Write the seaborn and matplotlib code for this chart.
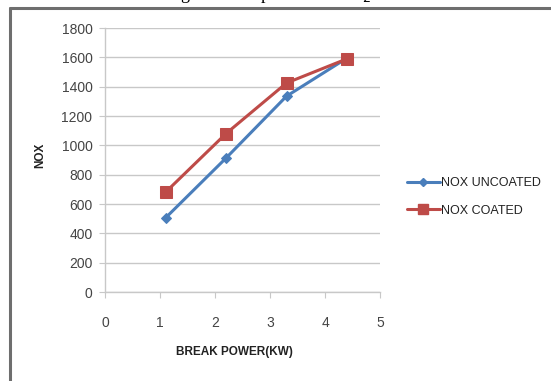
import matplotlib
matplotlib.use("Agg")
import matplotlib.pyplot as plt
from matplotlib.lines import Line2D
import seaborn as sns
import pandas as pd

power = [1.1, 2.2, 3.3, 4.4]
nox_uncoated = [505, 913, 1335, 1595]
nox_coated = [680, 1080, 1425, 1590]
series_names = ["NOX UNCOATED", "NOX COATED"]
y_ticks = [0, 200, 400, 600, 800, 1000, 1200, 1400, 1600, 1800]
x_ticks = [0, 1, 2, 3, 4, 5]

df = pd.DataFrame({
    "power": power * 2,
    "nox": nox_uncoated + nox_coated,
    "series": [series_names[0]] * 4 + [series_names[1]] * 4,
})

sns.set_style("white")
plt.rcParams["font.family"] = ["Liberation Sans", "DejaVu Sans"]

fig = plt.figure(figsize=(5.51, 3.81), dpi=100)
ax = fig.add_axes([105 / 551, 1 - 292 / 381, 275 / 551, 264 / 381])

colors = {series_names[0]: "#4A7EBB", series_names[1]: "#BE4B48"}
markers = {series_names[0]: "D", series_names[1]: "s"}
sizes = {series_names[0]: 5.5, series_names[1]: 9}
for name in series_names:
    sub = df[df["series"] == name]
    sns.lineplot(data=sub, x="power", y="nox", ax=ax, color=colors[name],
                 marker=markers[name], markersize=sizes[name], linewidth=2.2,
                 markeredgecolor=colors[name], legend=False)

ax.set_xlim(0, 5)
ax.set_ylim(0, 1800)
ax.set_xticks(x_ticks)
ax.set_yticks(y_ticks)
ax.set_xticklabels([str(v) for v in x_ticks], fontsize=10, color="#444444")
ax.set_yticklabels([str(v) for v in y_ticks], fontsize=10, color="#444444")
ax.yaxis.grid(True, color="#c8c8c8", linewidth=1)
ax.xaxis.grid(False)
for s in ["top", "right"]:
    ax.spines[s].set_visible(False)
for s in ["left", "bottom"]:
    ax.spines[s].set_color("#c8c8c8")
    ax.spines[s].set_linewidth(1)
ax.tick_params(axis="y", which="both", length=4, color="#c8c8c8",
               direction="out", left=True, pad=5)
ax.tick_params(axis="x", which="both", length=4, color="#c8c8c8",
               direction="out", bottom=True, pad=13)

ax.set_xlabel("BREAK POWER(KW)", fontsize=8.5, fontweight="bold", color="#222222")
ax.set_ylabel("NOX", fontsize=8.5, fontweight="bold", color="#222222")
ax.xaxis.set_label_coords((234 - 105) / 275, -(352 - 292) / 264)
ax.yaxis.set_label_coords(-(105 - 40) / 275, (292 - 155) / 264)
ax.xaxis.label.set_va("center")
ax.yaxis.label.set_va("center")

handles = [Line2D([], [], color=colors[n], marker=markers[n], markersize=sizes[n] * 0.75,
                  linewidth=2.2) for n in series_names]
leg = fig.legend(handles, series_names, loc="center left",
                 bbox_to_anchor=(402 / 551, 1 - 197 / 381), frameon=False,
                 fontsize=9, handlelength=2.6, handletextpad=0.1, labelspacing=1.2,
                 borderaxespad=0)
for t in leg.get_texts():
    t.set_color("#222222")

# document frame
fig.add_artist(Line2D([10 / 551, 10 / 551], [0, 1 - 8 / 381], transform=fig.transFigure,
                      color="#6e6e6e", linewidth=2.2))
fig.add_artist(Line2D([10 / 551, 1], [1 - 8 / 381, 1 - 8 / 381], transform=fig.transFigure,
                      color="#6e6e6e", linewidth=2.2))

fig.text(268 / 551, 1 - 5 / 381, "Fig. 10: Comparison of CO$_2$", ha="center", va="bottom",
         fontsize=13, family="Liberation Serif", color="black")

fig.savefig("out.png", dpi=100, facecolor="white")
